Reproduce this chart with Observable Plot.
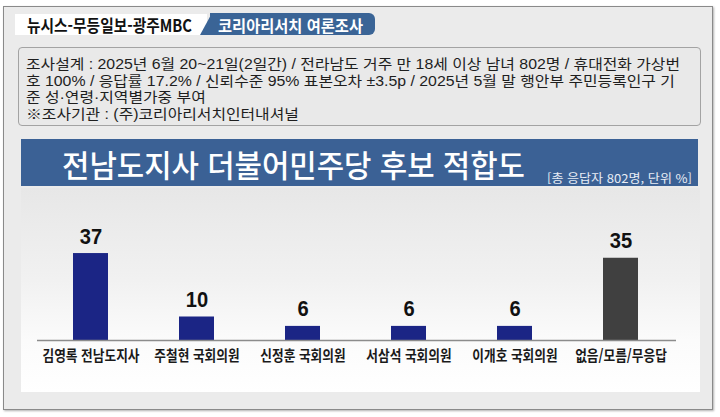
<!DOCTYPE html>
<html lang="ko">
<head>
<meta charset="utf-8">
<script src="https://cdn.jsdelivr.net/npm/d3@7"></script>
<script src="https://cdn.jsdelivr.net/npm/@observablehq/plot@0.6"></script>
<style>
  html, body { margin:0; padding:0; background:#fff; }
  body { width:720px; height:417px; position:relative; overflow:hidden;
         font-family:"Noto Sans CJK KR","Noto Sans",sans-serif; }
  .abs { position:absolute; }
  .fit { display:inline-block; white-space:nowrap; transform-origin:left center; }
  #frame { left:3px; top:6px; width:708px; height:402px; border:1px solid #8a8a8a;
           background:#ebebeb; box-shadow:1px 1px 2px #b0b0b0; }
  #tabWhite { left:15px; top:14px; width:192px; height:21px; background:#fff; }
  #tabBlueSkew { left:200px; top:13px; width:24px; height:22px; background:#3a6496;
                 transform-origin:left bottom; transform:skewX(-28.6deg); }
  #tabBlue { left:210px; top:13px; width:165px; height:22px; background:#3a6496;
             border-radius:0 6px 6px 0; }
  #info { left:18px; top:47px; width:681px; height:77px; border:1px solid #a3a3a3;
          border-radius:4px; background:#e9e9e9; }
  #titleBand { left:21px; top:139px; width:677px; height:47px; background:#3b6195; }
  #chartArea { left:21px; top:188px; width:679px; height:204px;
               background:linear-gradient(#e7e7e7 0%, #f1f1f1 45%, #fbfbfb 75%, #ffffff 100%); }
  #plotHost { left:20px; top:187px; width:681px; height:205px; }
</style>
</head>
<body>
<script>
// ---- data ----
const categories = ["김영록 전남도지사", "주철현 국회의원", "신정훈 국회의원", "서삼석 국회의원", "이개호 국회의원", "없음/모름/무응답"];
const values = [37, 10, 6, 6, 6, 35];
const kinds = ["후보", "후보", "후보", "후보", "후보", "없음"];

const headerLeft = "뉴시스-무등일보-광주MBC";
const headerRight = "코리아리서치  여론조사";
const infoLines = [
  "조사설계 : 2025년 6월 20~21일(2일간) / 전라남도 거주 만 18세 이상 남녀 802명 / 휴대전화 가상번",
  "호 100% / 응답률 17.2% / 신뢰수준 95% 표본오차 ±3.5p / 2025년 5월 말 행안부 주민등록인구 기",
  "준 성·연령·지역별가중 부여",
  "※조사기관 : (주)코리아리서치인터내셔널"
];
const title = "전남도지사 더불어민주당 후보 적합도";
const subtitle = "[총 응답자 802명, 단위 %]";

const data = categories.map((name, i) => ({name, value: values[i], kind: kinds[i]}));

// ---- layout helpers ----
function box(id, parent = document.body) {
  const d = document.createElement("div");
  d.className = "abs"; d.id = id; parent.appendChild(d); return d;
}
function textAt(str, left, centerY, opts) {
  const lh = opts.lineHeight || Math.round(opts.size * 1.3);
  const wrap = document.createElement("div");
  wrap.className = "abs";
  wrap.style.left = left + "px";
  wrap.style.top = (centerY - lh / 2) + "px";
  wrap.style.lineHeight = lh + "px";
  const s = document.createElement("span");
  s.className = "fit";
  s.textContent = str;
  s.style.fontSize = opts.size + "px";
  s.style.fontWeight = opts.weight || 400;
  s.style.color = opts.color || "#000";
  if (opts.family) s.style.fontFamily = opts.family;
  wrap.appendChild(s);
  document.body.appendChild(wrap);
  if (opts.width) {
    const w = s.getBoundingClientRect().width;
    s.style.transform = `scaleX(${opts.width / w})`;
  }
  return s;
}

box("frame");
box("tabWhite");
box("tabBlueSkew");
box("tabBlue");
box("info");
box("titleBand");
box("chartArea");
const host = box("plotHost");

textAt(headerLeft, 27, 24.5, {size:17, weight:700, color:"#111", width:165});
textAt(headerRight, 218, 24.5, {size:15.5, weight:700, color:"#fff", width:145});

// info block: scale all lines with the factor fitting line 1
const infoFamily = "'Liberation Sans','Noto Sans CJK KR',sans-serif";
const infoSpans = infoLines.map((l, i) => textAt(l, 26, 62 + i * 16.6,
  {size:14, weight:400, color:"#1e1e1e", lineHeight:16, family: infoFamily}));
const k = 654 / infoSpans[0].getBoundingClientRect().width;
infoSpans.forEach(s => s.style.transform = `scaleX(${k})`);

textAt(title, 62, 163.5, {size:31, weight:500, color:"#fff", width:463, lineHeight:40});
textAt(subtitle, 547, 175.5, {size:12, weight:400, color:"#e8edf5", width:145});

// ---- chart ----
const chart = Plot.plot({
  width: 681,
  height: 205,
  marginLeft: 17,
  marginRight: 25,
  marginTop: 59,
  marginBottom: 52,
  style: {background: "transparent", overflow: "visible"},
  x: {domain: categories, range: [31.2, 640.2], paddingInner: 0.671, paddingOuter: 0.2, axis: null},
  y: {domain: [0, 40], axis: null},
  color: {domain: ["후보", "없음"], range: ["#1b2585", "#404040"]},
  marks: [
    Plot.barY(data, {x: "name", y: "value", fill: "kind"}),
    Plot.ruleY([0], {stroke: "#8c8c8c", strokeWidth: 1.6}),
    Plot.text(data, {x: "name", y: "value", text: d => String(d.value), dy: -17,
      fontSize: 22, fontWeight: "bold", fill: "#111", className: "vallabel",
      fontFamily: "'Liberation Sans Narrow','Liberation Sans',sans-serif"}),
    Plot.text(data, {x: "name", y: 0, text: "name", dy: 16, fontSize: 15, fontWeight: "bold",
      fill: "#1a1a1a", className: "catlabel",
      fontFamily: "'Noto Sans CJK KR',sans-serif"})
  ]
});
host.appendChild(chart);

// condense labels like the reference's narrow typeface
const cats = [...chart.querySelectorAll("g.catlabel text")];
const cf = 97 / cats[0].getComputedTextLength();
cats.forEach(t => {
  t.setAttribute("textLength", (t.getComputedTextLength() * cf).toFixed(1));
  t.setAttribute("lengthAdjust", "spacingAndGlyphs");
});
chart.querySelectorAll("g.vallabel text").forEach(t => {
  t.setAttribute("textLength", (t.textContent.length * 11.2).toFixed(1));
  t.setAttribute("lengthAdjust", "spacingAndGlyphs");
});
</script>
</body>
</html>
